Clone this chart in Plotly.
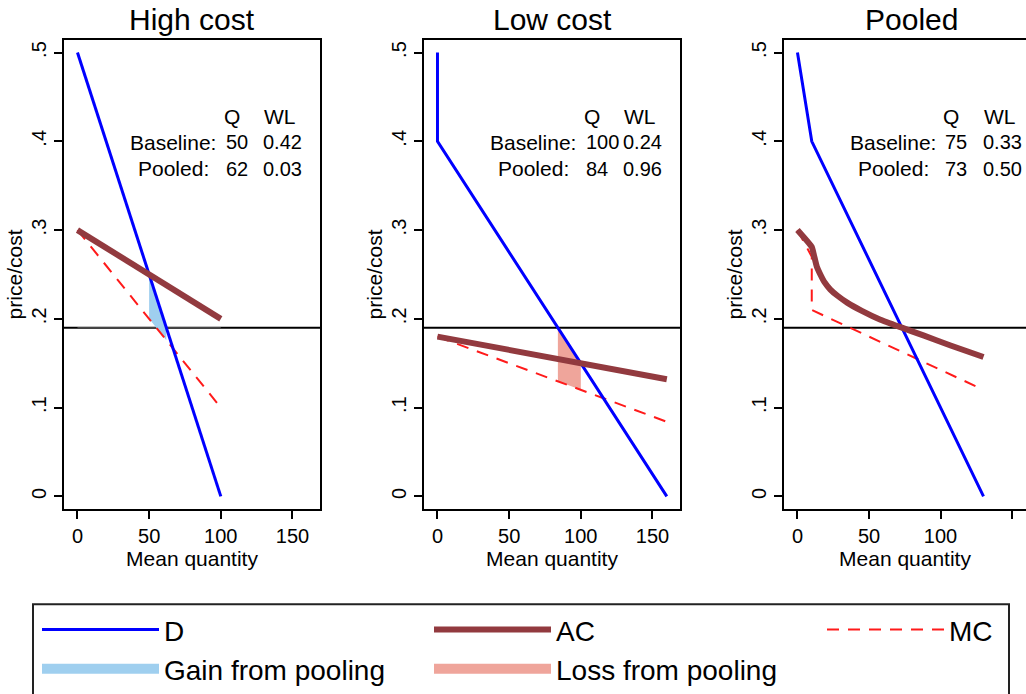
import plotly.graph_objects as go

# ---------------- data ----------------
panel_titles = ["High cost", "Low cost", "Pooled"]

# High cost
hi_D_q = [0, 100]
hi_D_p = [0.5, 0.0]
hi_AC_q = [0, 100]
hi_AC_c = [0.30, 0.20]
hi_MC_q = [0, 100]
hi_MC_c = [0.30, 0.10]
hi_gain_q = [50, 62, 62, 50]
hi_gain_c = [0.25, 0.19, 0.176, 0.20]
hi_price_q = [0, 100]          # faint price segment drawn over the reference line

# Low cost
lo_D_q = [0, 0, 160]
lo_D_p = [0.5, 0.4, 0.0]
lo_AC_q = [0, 160]
lo_AC_c = [0.18, 0.132]
lo_MC_q = [0, 160]
lo_MC_c = [0.18, 0.084]
lo_loss_q = [84, 100, 100, 84]
lo_loss_c = [0.19, 0.15, 0.12, 0.1296]

# Pooled
po_D_q = [0, 10, 130]
po_D_p = [0.5, 0.4, 0.0]
po_AC_q = [0, 10, 11.5, 13.5, 16, 19, 23, 28, 35, 45, 58, 72, 88, 107, 130]
po_AC_c = [0.300, 0.281, 0.272, 0.259, 0.250, 0.241, 0.233, 0.226, 0.218, 0.209,
           0.199, 0.1906, 0.1813, 0.170, 0.157]
po_MC_q = [0, 10, 10, 130]
po_MC_c = [0.30, 0.27, 0.21, 0.12]

price_line = 0.19

table_Q = [[50, 62], [100, 84], [75, 73]]
table_WL = [["0.42", "0.03"], ["0.24", "0.96"], ["0.33", "0.50"]]
row_labels = ["Baseline:", "Pooled:"]

y_ticks = [0, 0.1, 0.2, 0.3, 0.4, 0.5]
y_ticktext = ["0", ".1", ".2", ".3", ".4", ".5"]
x_ticks = [0, 50, 100, 150]

# ---------------- styles ----------------
FONT = "Liberation Sans, Arial, sans-serif"
C_D = "#0000FF"
C_AC = "#923A3F"
C_MC = "#FF1A1A"
C_GAIN = "#9FCFEF"
C_LOSS = "#EFA59B"

W, H = 1026, 694

fig = go.Figure()

panels = [
    dict(D=(hi_D_q, hi_D_p), AC=(hi_AC_q, hi_AC_c), MC=(hi_MC_q, hi_MC_c),
         fill=(hi_gain_q, hi_gain_c), fillname="Gain from pooling", fillcolor=C_GAIN),
    dict(D=(lo_D_q, lo_D_p), AC=(lo_AC_q, lo_AC_c), MC=(lo_MC_q, lo_MC_c),
         fill=(lo_loss_q, lo_loss_c), fillname="Loss from pooling", fillcolor=C_LOSS),
    dict(D=(po_D_q, po_D_p), AC=(po_AC_q, po_AC_c), MC=(po_MC_q, po_MC_c),
         fill=None),
]

fill_legend = {"Gain from pooling": "legend4", "Loss from pooling": "legend5"}

# faint price segment in the first panel
fig.add_trace(go.Scatter(x=hi_price_q, y=[price_line] * len(hi_price_q), xaxis="x", yaxis="y",
                         mode="lines", line=dict(color="#454545", width=1.4),
                         showlegend=False, hoverinfo="skip"))

for i, p in enumerate(panels):
    xa = "x" if i == 0 else f"x{i+1}"
    ya = "y" if i == 0 else f"y{i+1}"
    if p["fill"] is not None:
        fig.add_trace(go.Scatter(x=p["fill"][0], y=p["fill"][1], xaxis=xa, yaxis=ya,
                                 fill="toself", fillcolor=p["fillcolor"], mode="none",
                                 name=p["fillname"], showlegend=False,
                                 legendgroup=p["fillname"]))
        # legend key for the shaded area (thick swatch)
        fig.add_trace(go.Scatter(x=[None], y=[None], xaxis=xa, yaxis=ya, mode="lines",
                                 line=dict(color=p["fillcolor"], width=27),
                                 name=p["fillname"], legend=fill_legend[p["fillname"]],
                                 legendgroup=p["fillname"], showlegend=True))
    fig.add_trace(go.Scatter(x=p["MC"][0], y=p["MC"][1], xaxis=xa, yaxis=ya, mode="lines",
                             line=dict(color=C_MC, width=2, dash="12px,9px"),
                             name="MC", legend="legend3", showlegend=(i == 0)))
    fig.add_trace(go.Scatter(x=p["D"][0], y=p["D"][1], xaxis=xa, yaxis=ya, mode="lines",
                             line=dict(color=C_D, width=3),
                             name="D", legend="legend", showlegend=(i == 0)))
    fig.add_trace(go.Scatter(x=p["AC"][0], y=p["AC"][1], xaxis=xa, yaxis=ya, mode="lines",
                             line=dict(color=C_AC, width=6, shape="spline", smoothing=0.4),
                             name="AC", legend="legend2", showlegend=(i == 0)))

# ---------------- axes ----------------
xdomains = [[64 / W, 320 / W], [424 / W, 680 / W], [784 / W, 1.0]]
ydom = [1 - 510.7 / H, 1 - 39.8 / H]
xranges = [[-9.4, 169.2], [-9.4, 169.2], [-9.4, -9.4 + (1026 - 784) / 1.4311]]

layout = dict(
    width=W, height=H,
    margin=dict(l=0, r=0, t=0, b=0),
    paper_bgcolor="white", plot_bgcolor="white",
    font=dict(family=FONT, color="black", size=20),
    shapes=[], annotations=[],
)

for i in range(3):
    sfx = "" if i == 0 else str(i + 1)
    layout["xaxis" + sfx] = dict(
        domain=xdomains[i], range=xranges[i], anchor="y" + sfx,
        tickvals=x_ticks, ticks="outside", ticklen=8, tickwidth=1.5, tickcolor="black",
        showline=True, linecolor="black", linewidth=2, mirror=True,
        showgrid=False, zeroline=False,
        tickfont=dict(size=20, family=FONT),
        title=dict(text="Mean quantity", font=dict(size=21, family=FONT), standoff=0),
    )
    layout["yaxis" + sfx] = dict(
        domain=ydom, range=[-0.0145, 0.5145], anchor="x" + sfx,
        tickvals=y_ticks, ticktext=y_ticktext, tickangle=-90,
        ticks="outside", ticklen=8, tickwidth=1.5, tickcolor="black",
        showline=True, linecolor="black", linewidth=2, mirror=(i < 2),
        showgrid=False, zeroline=False,
        tickfont=dict(size=20, family=FONT),
        title=dict(text="price/cost", font=dict(size=21, family=FONT), standoff=0),
    )
    # horizontal price line
    layout["shapes"].append(dict(type="line", xref=f"x{sfx} domain", yref="y" + sfx,
                                 x0=0, x1=1, y0=price_line, y1=price_line, layer="below",
                                 line=dict(color="black", width=2)))
    # panel title
    centers = [192, 552, 911.5]
    layout["annotations"].append(dict(text=panel_titles[i], xref="paper", yref="paper",
                                      x=centers[i] / W, y=1 - 20 / H, showarrow=False,
                                      xanchor="center", yanchor="middle",
                                      font=dict(size=30, family=FONT)))
    # table
    xr, yr = "x" + sfx, "y" + sfx
    tf = dict(size=21, family=FONT)
    nf = dict(size=20, family=FONT)
    layout["annotations"] += [
        dict(text="Q", x=107.5, y=0.428, xref=xr, yref=yr, showarrow=False, font=tf),
        dict(text="WL", x=141.3, y=0.428, xref=xr, yref=yr, showarrow=False, font=tf),
    ]
    for r, yy in enumerate([0.3987, 0.3693]):
        layout["annotations"] += [
            dict(text=row_labels[r], x=[98.0, 93.5][r], y=yy, xref=xr, yref=yr, showarrow=False,
                 xanchor="right", font=tf),
            dict(text=str(table_Q[i][r]), x=102.0, y=yy, xref=xr, yref=yr, showarrow=False,
                 xanchor="left", font=nf),
            dict(text=table_WL[i][r], x=128.0, y=yy, xref=xr, yref=yr, showarrow=False,
                 xanchor="left", font=nf),
        ]

# legend frame
layout["shapes"].append(dict(type="rect", xref="paper", yref="paper",
                             x0=33 / W, x1=1009 / W, y0=-0.05, y1=1 - 606 / H,
                             line=dict(color="#222222", width=2)))

leg_common = dict(orientation="v", xanchor="left", yanchor="middle", bgcolor="rgba(0,0,0,0)",
                  borderwidth=0, itemwidth=117, font=dict(size=28, family=FONT),
                  itemclick=False, itemdoubleclick=False)
leg_pos = {"legend": (37, 631.7), "legend2": (429, 631.7), "legend3": (822, 631.7),
           "legend4": (37, 671), "legend5": (429, 671)}
for k, (px, py) in leg_pos.items():
    layout[k] = dict(leg_common, x=px / W, y=1 - py / H)

fig.update_layout(**layout)
fig.write_html("out.html")
